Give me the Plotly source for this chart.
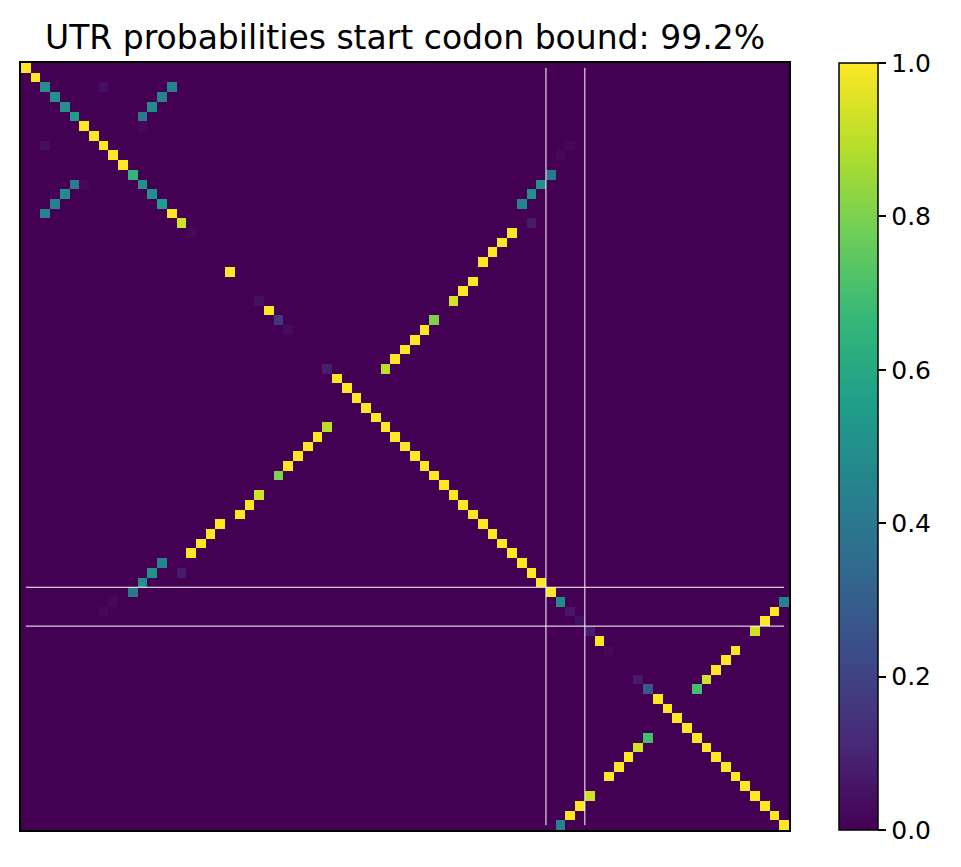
import numpy as np
import plotly.graph_objects as go

N = 79
title = "UTR probabilities start codon bound: 99.2%"

# diagonal cells (index, value)
diag_idx = [0,1,2,3,4,5,6,7,8,9,10,11,12,13,14,15,16,17,21,24,25,26,27,31,
            32,33,34,35,36,37,38,39,40,41,42,43,44,45,46,47,48,49,50,51,52,53,54,
            55,56,57,58,59,60,63,64,65,66,67,68,69,70,71,72,73,74,75,76,77,78]
diag_val = [1,1,0.5,0.5,0.5,0.55,1,1,1,1,1,0.65,0.5,0.5,0.55,1,0.93,0.02,1,0.04,1,0.15,0.03,0.08,
            1,1,1,1,1,1,1,1,1,1,1,1,1,1,1,1,1,1,1,1,1,1,1,
            0.48,0.06,0.04,0.08,1,0.02,0.07,0.28,1,1,1,1,1,1,1,1,1,1,1,1,1,1,1]

# off-diagonal pairs (i, j, value), mirrored
pair_i = [2,3,4,5, 2,6, 11,12,13,14,16, 17,18,19,20,22,23,24,26,27,28,29,30,31,
          8,9, 55,56,57,58,60,61,62,63,64]
pair_j = [15,14,13,12, 8,12, 54,53,52,51,52, 50,49,48,47,46,45,44,42,41,40,39,38,37,
          56,55, 78,77,76,75,73,72,71,70,69]
pair_val = [0.45,0.45,0.48,0.42, 0.04,0.02, 0.4,0.5,0.5,0.45,0.07, 1,1,1,1,1,1,0.93,0.8,1,1,1,1,0.9,
            0.02,0.02, 0.45,1,1,0.93,1,1,1,0.93,0.7]

z = np.zeros((N, N))
for i, v in zip(diag_idx, diag_val):
    z[i, i] = v
for i, j, v in zip(pair_i, pair_j, pair_val):
    z[i, j] = v
    z[j, i] = v

codon_bounds = [53.5, 57.5]

fig = go.Figure(go.Heatmap(
    z=z, colorscale="Viridis", zmin=0, zmax=1,
    colorbar=dict(x=(838-20)/768, xanchor="left", y=0.5, len=1.0, lenmode="fraction",
                  thickness=39, thicknessmode="pixels", outlinecolor="black", outlinewidth=1.5,
                  xpad=0, ypad=0,
                  tickvals=[0, 0.2, 0.4, 0.6, 0.8, 1.0], ticktext=["0.0","0.2","0.4","0.6","0.8","1.0"],
                  ticks="outside", ticklen=8, tickwidth=1.5, tickcolor="black",
                  tickfont=dict(size=25, color="black")),
    hoverinfo="skip"))

shapes = []
for b in codon_bounds:
    shapes.append(dict(type="line", x0=b, x1=b, y0=0, y1=N-1, line=dict(color="white", width=1)))
    shapes.append(dict(type="line", y0=b, y1=b, x0=0, x1=N-1, line=dict(color="white", width=1)))

fig.update_layout(
    width=961, height=867,
    margin=dict(l=13, r=180, t=55, b=45, autoexpand=False),
    paper_bgcolor="white", plot_bgcolor="white",
    title=dict(text=title, x=397/961, xanchor="center", y=1-29/867, yanchor="middle",
               font=dict(size=33, color="black", family="DejaVu Sans")),
    font=dict(family="DejaVu Sans"),
    xaxis=dict(range=[-0.5, N-0.5], showticklabels=False, ticks="", showgrid=False, zeroline=False,
               showline=True, linecolor="black", linewidth=1.5, mirror=True),
    yaxis=dict(range=[N-0.5, -0.5], showticklabels=False, ticks="", showgrid=False, zeroline=False,
               showline=True, linecolor="black", linewidth=1.5, mirror=True),
    shapes=shapes,
)
fig.write_html("out.html")
